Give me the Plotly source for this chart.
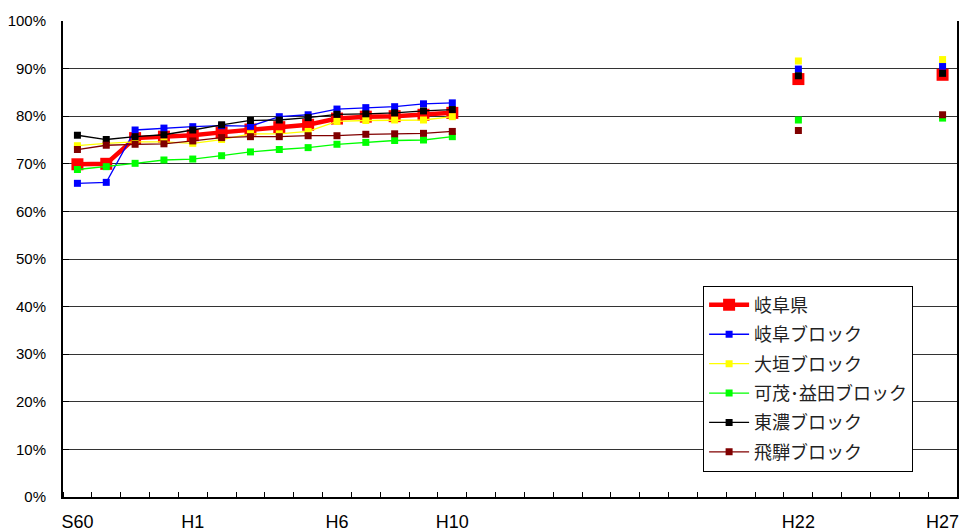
import plotly.graph_objects as go

years = [1985, 1986, 1987, 1988, 1989, 1990, 1991, 1992, 1993, 1994, 1995, 1996, 1997, 1998, 2010, 2015]
tick_years = [1985, 1989, 1994, 1998, 2010, 2015]
tick_labels = ["S60", "H1", "H6", "H10", "H22", "H27"]

series_names = ["岐阜県", "岐阜ブロック", "大垣ブロック", "可茂･益田ブロック", "東濃ブロック", "飛騨ブロック"]
gifu_pref = [69.9, 70.0, 75.4, 75.7, 76.0, 76.6, 77.2, 77.7, 78.2, 79.5, 79.9, 80.0, 80.3, 80.7, 87.8, 88.7]
gifu_block = [65.9, 66.1, 77.1, 77.5, 77.8, 78.0, 77.9, 79.9, 80.3, 81.5, 81.8, 82.0, 82.6, 82.8, 89.9, 90.5]
ogaki_block = [73.8, 74.3, 74.6, 74.6, 74.3, 75.1, 76.3, 76.3, 76.8, 78.9, 79.1, 79.2, 79.2, 79.9, 91.6, 91.9]
kamo_block = [68.8, 69.4, 70.1, 70.8, 71.0, 71.7, 72.5, 73.0, 73.4, 74.1, 74.5, 74.9, 75.0, 75.7, 79.2, 79.6]
tono_block = [76.0, 75.1, 75.7, 76.1, 77.1, 78.2, 79.1, 79.2, 79.7, 80.4, 80.5, 80.7, 81.1, 81.4, 88.5, 89.0]
hida_block = [73.0, 73.9, 74.1, 74.2, 74.8, 75.5, 75.7, 75.7, 75.9, 75.9, 76.2, 76.3, 76.4, 76.8, 77.0, 80.3]

all_values = [gifu_pref, gifu_block, ogaki_block, kamo_block, tono_block, hida_block]
colors = ["#FF0000", "#0000FF", "#FFFF00", "#00FF00", "#000000", "#800000"]


def with_gaps(xs, ys):
    ox, oy = [], []
    for i, (x, y) in enumerate(zip(xs, ys)):
        if i > 0 and x - xs[i - 1] > 1:
            ox.append(None)
            oy.append(None)
        ox.append(x)
        oy.append(y)
    return ox, oy


fig = go.Figure()
for i, (name, vals, col) in enumerate(zip(series_names, all_values, colors)):
    gx, gy = with_gaps(years, vals)
    main = i == 0
    fig.add_trace(go.Scatter(
        x=gx, y=gy, name=name, mode="lines+markers",
        connectgaps=False, legendgroup=f"g{i}",
        line=dict(color=col, width=4.5 if main else 1.3),
        marker=dict(symbol="square", size=12 if main else 7, color=col,
                    line=dict(width=0)),
    ))

fig.update_layout(
    width=960, height=531,
    margin=dict(l=63, r=3, t=21, b=34),
    paper_bgcolor="white", plot_bgcolor="white",
    font=dict(family="Liberation Sans, Arial, sans-serif", size=15, color="black"),
    showlegend=True,
    legend=dict(
        x=0.716, y=0.444, xanchor="left", yanchor="top",
        bgcolor="white", bordercolor="black", borderwidth=1,
        font=dict(family="Noto Sans CJK JP, sans-serif", size=18, color="#222"),
        tracegroupgap=3, itemwidth=40,
    ),
)
fig.update_xaxes(
    range=[1984.5, 2015.5], automargin=False,
    tickmode="array", tickvals=tick_years, ticktext=tick_labels,
    tickfont=dict(family="Liberation Sans, Arial", size=18),
    ticklabeloverflow="allow",
    ticks="", showgrid=False, zeroline=False,
    showline=True, linecolor="black", linewidth=2,
    ticklabelstandoff=7,
    minor=dict(tickmode="linear", tick0=1985.5, dtick=1, ticks="inside",
               ticklen=5, tickcolor="black", tickwidth=1, showgrid=False),
)
fig.update_yaxes(
    range=[0, 100], tickmode="linear", tick0=0, dtick=10, ticksuffix="%",
    automargin=False,
    ticks="inside", ticklen=6, tickcolor="black",
    showgrid=True, gridcolor="#333", gridwidth=1, zeroline=False,
    showline=True, linecolor="black", linewidth=2, mirror=True,
    ticklabelstandoff=12,
)

# remove the default 8px page margin so the 960x531 figure fills the window
fig.write_html("out.html", config={"displayModeBar": False},
               post_script="document.body.style.margin='0';")
